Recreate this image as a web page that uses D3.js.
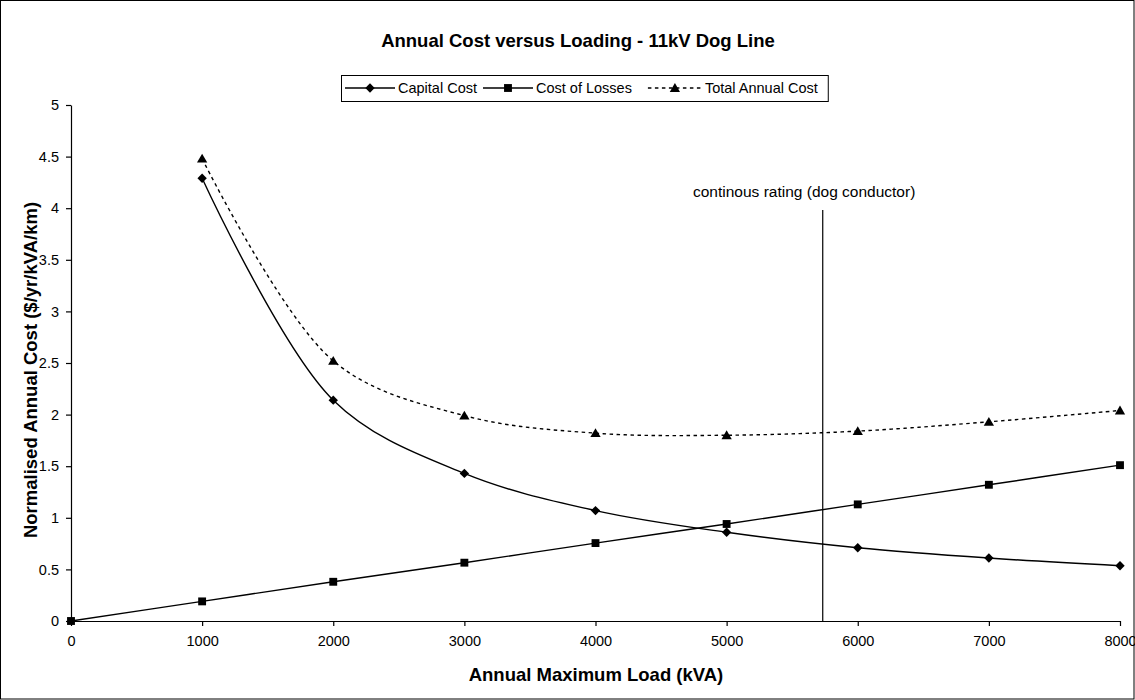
<!DOCTYPE html>
<html><head><meta charset="utf-8">
<script src="https://cdn.jsdelivr.net/npm/d3@7"></script>
<style>body{margin:0;background:#fff;} text{font-family:"Liberation Sans",Arial,sans-serif;fill:#000;}</style>
</head><body>
<script>
const loads = [0,1000,2000,3000,4000,5000,6000,7000,8000];
const capitalCost = [null,4.29,2.14,1.43,1.07,0.86,0.71,0.61,0.535];
const costOfLosses = [0,0.19,0.38,0.565,0.755,0.94,1.13,1.32,1.51];
const totalAnnualCost = [null,4.48,2.52,1.99,1.82,1.80,1.84,1.93,2.04];
const xTicks = [0,1000,2000,3000,4000,5000,6000,7000,8000];
const yTicks = [0,0.5,1,1.5,2,2.5,3,3.5,4,4.5,5];
const ratingLoad = 5733;
const ratingLabel = "continous rating (dog conductor)";

const W=1135,H=700;
const svg=d3.select("body").append("svg").attr("width",W).attr("height",H);
svg.append("rect").attr("x",0.5).attr("y",0.5).attr("width",W-1.5).attr("height",H-1.5).attr("fill","#fff").attr("stroke","#000").attr("stroke-width",1);

const L=71,R=1120,T=105,B=621;
const x=d3.scaleLinear().domain([0,8000]).range([L,R]);
const y=d3.scaleLinear().domain([0,5]).range([B,T]);

svg.append("text").attr("x",578).attr("y",47).attr("text-anchor","middle").attr("font-size",18.5).attr("font-weight","bold").text("Annual Cost versus Loading - 11kV Dog Line");

// axes
const xa=svg.append("g").attr("transform",`translate(0,${B})`).call(d3.axisBottom(x).tickValues(xTicks).tickSize(5).tickSizeOuter(0).tickPadding(5).tickFormat(d3.format("d")));
const ya=svg.append("g").attr("transform",`translate(${L},0)`).call(d3.axisLeft(y).tickValues(yTicks).tickSize(5).tickSizeOuter(0).tickPadding(7).tickFormat(d=>String(d)));
[xa,ya].forEach(g=>{g.selectAll("text").attr("font-size",14.5).attr("fill","#000").attr("font-family","Liberation Sans, Arial, sans-serif");g.selectAll("line,path").attr("stroke","#000").attr("stroke-width",1.2);});
xa.selectAll("text").attr("dy","1.05em");

svg.append("text").attr("x",596).attr("y",681).attr("text-anchor","middle").attr("font-size",18.5).attr("font-weight","bold").text("Annual Maximum Load (kVA)");
svg.append("text").attr("transform",`translate(37,${(T+B)/2+7}) rotate(-90)`).attr("text-anchor","middle").attr("font-size",18.5).attr("font-weight","bold").text("Normalised Annual Cost ($/yr/kVA/km)");

// rating line
svg.append("line").attr("x1",x(ratingLoad)).attr("x2",x(ratingLoad)).attr("y1",210).attr("y2",B).attr("stroke","#000").attr("stroke-width",1.2);
svg.append("text").attr("x",693).attr("y",197).attr("font-size",15.5).text(ratingLabel);

function pts(vals){return loads.map((l,i)=>({l,v:vals[i]})).filter(d=>d.v!=null);}
const line=d3.line().x(d=>x(d.l)).y(d=>y(d.v)).curve(d3.curveCatmullRom.alpha(0.5));
const diamond={draw(ctx,size){const r=Math.sqrt(size/2);ctx.moveTo(0,-r);ctx.lineTo(r,0);ctx.lineTo(0,r);ctx.lineTo(-r,0);ctx.closePath();}};
const tri={draw(ctx,size){const r=Math.sqrt(size)*0.62;ctx.moveTo(0,-r);ctx.lineTo(r*1.05,r*0.8);ctx.lineTo(-r*1.05,r*0.8);ctx.closePath();}};
const series=[
 {name:"Capital Cost",vals:capitalCost,dash:null,sym:diamond,size:44},
 {name:"Cost of Losses",vals:costOfLosses,dash:null,sym:d3.symbolSquare,size:62},
 {name:"Total Annual Cost",vals:totalAnnualCost,dash:"3.5,3.5",sym:tri,size:62}
];
series.forEach(s=>{
  const p=pts(s.vals);
  svg.append("path").attr("d",line(p)).attr("fill","none").attr("stroke","#000").attr("stroke-width",1.4).attr("stroke-dasharray",s.dash);
  svg.selectAll(null).data(p).enter().append("path").attr("d",d3.symbol(s.sym,s.size)).attr("transform",d=>`translate(${x(d.l)},${y(d.v)})`).attr("fill","#000");
});

// legend
const lg=svg.append("g");
let cx=345; const ly=88;
const lineLens=[50,50,54];
series.forEach((s,i)=>{
  const len=lineLens[i];
  lg.append("line").attr("x1",cx).attr("x2",cx+len).attr("y1",ly).attr("y2",ly).attr("stroke","#000").attr("stroke-width",1.4).attr("stroke-dasharray",s.dash);
  lg.append("path").attr("d",d3.symbol(s.sym,s.size)).attr("transform",`translate(${cx+len/2},${ly})`).attr("fill","#000");
  const t=lg.append("text").attr("x",cx+len+3).attr("y",ly+5).attr("font-size",14.5).text(s.name);
  cx=cx+len+3+t.node().getComputedTextLength()+(i==1?16:6);
});
lg.insert("rect",":first-child").attr("x",341.5).attr("y",75.5).attr("width",cx-341+4).attr("height",26).attr("fill","#fff").attr("stroke","#000");
</script>
</body></html>
